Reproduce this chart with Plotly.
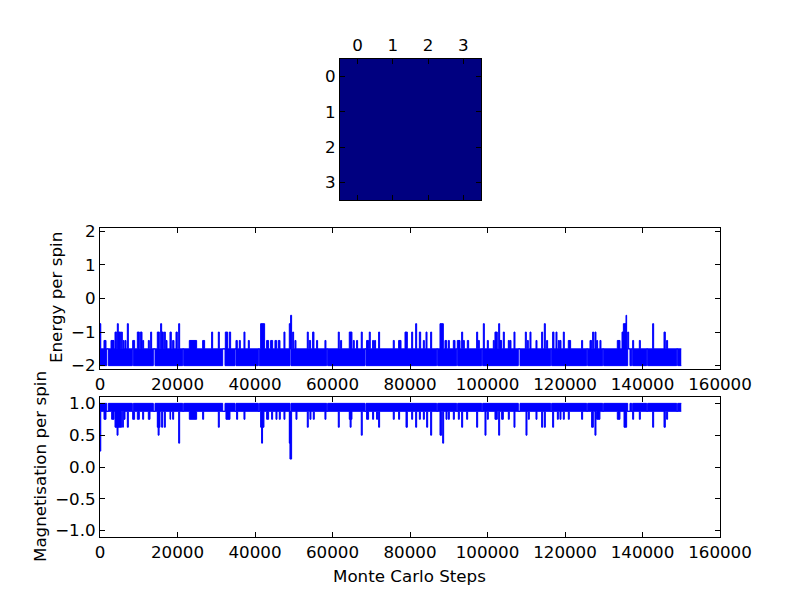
import plotly.graph_objects as go

# ---------------- data ----------------
spin_grid = [[1, 1, 1, 1],
             [1, 1, 1, 1],
             [1, 1, 1, 1],
             [1, 1, 1, 1]]
grid_ticks = [0, 1, 2, 3]

last_step = 150000
energy_ground = -2.0
energy_excited = -1.5
mag_full = 1.0
mag_excited = 0.875

# (start step, end step, energy per spin) excursions above the -1.5 level
energy_spikes = [
    (0, 200, -0.75), (1030, 1550, -1.25), (2840, 3610, -1.25), (3870, 4300, -1.0),
    (4470, 4720, -0.75), (4730, 5330, -1.0), (5500, 5760, -1.0), (6020, 6190, -1.25),
    (6450, 6710, -1.25), (7050, 7310, -0.75), (8430, 8940, -1.25), (9630, 10150, -1.0),
    (10410, 10840, -1.0), (11010, 11270, -1.25), (12470, 12730, -1.25), (13070, 13330, -1.0),
    (14790, 15310, -1.0), (15650, 15910, -0.75), (16000, 16340, -1.0), (16600, 16860, -1.0),
    (17030, 17290, -1.25), (18060, 18400, -1.0), (18750, 19090, -1.25), (19610, 19950, -1.0),
    (20300, 20560, -0.75), (23050, 24940, -1.25), (26490, 27000, -1.25), (28810, 29070, -1.0),
    (30530, 30790, -1.0), (32340, 32940, -1.0), (33370, 33710, -1.0), (35090, 35430, -1.25),
    (35950, 36210, -1.25), (37150, 37410, -1.0), (38270, 38530, -1.25), (41450, 42480, -0.75),
    (43000, 43520, -1.25), (44030, 44550, -1.25), (45150, 45580, -1.25), (46010, 46440, -1.25),
    (47470, 47730, -1.0), (48850, 49190, -0.75), (49190, 49450, -0.5), (49710, 49970, -1.0),
    (50310, 50570, -1.25), (53490, 53750, -1.0), (54010, 54350, -1.25), (54870, 55210, -1.0),
    (55900, 56160, -1.25), (58050, 58310, -1.25), (61490, 61750, -1.0), (62090, 62350, -1.25),
    (64330, 65020, -1.0), (65360, 65620, -1.25), (66220, 66480, -1.25), (67420, 67680, -1.0),
    (68800, 69320, -1.25), (69490, 69750, -1.0), (70350, 70610, -1.25), (70860, 71120, -1.25),
    (71900, 72160, -1.0), (75680, 75940, -1.25), (77060, 77680, -1.25), (78710, 79310, -1.0),
    (80430, 80690, -1.0), (81460, 81720, -0.75), (82410, 82750, -1.0), (83440, 83700, -1.25),
    (84130, 84390, -1.0), (85330, 85590, -1.0), (87740, 88600, -0.75), (89030, 89460, -1.25),
    (89890, 90150, -1.25), (91180, 91610, -1.25), (92210, 92900, -1.25), (93330, 93590, -1.0),
    (93760, 94020, -1.25), (94790, 95140, -1.25), (97200, 97460, -1.0), (97630, 97890, -1.25),
    (98920, 99180, -0.75), (99950, 100210, -1.25), (101500, 101760, -1.25), (101930, 102530, -1.0),
    (102880, 103140, -0.75), (103220, 103650, -1.25), (104080, 104340, -1.0), (105370, 105630, -1.25),
    (105800, 106060, -1.25), (106830, 107090, -1.0), (109760, 110020, -1.0), (110270, 110530, -1.25),
    (110960, 111220, -1.0), (112510, 112770, -1.25), (113970, 114230, -1.0), (114660, 114920, -0.75),
    (115260, 115520, -1.25), (116810, 117150, -1.0), (117670, 117930, -1.0), (118270, 118530, -1.25),
    (118700, 118960, -1.25), (119560, 119820, -1.0), (120850, 121450, -1.25), (124290, 124550, -1.25),
    (126450, 126870, -1.25), (127130, 127390, -1.0), (127730, 127990, -1.0), (128160, 128420, -1.25),
    (129020, 129280, -1.25), (133500, 134180, -1.25), (134710, 135060, -1.0), (135060, 135740, -0.75),
    (135740, 135910, -0.5), (136170, 136430, -1.0), (137460, 137720, -1.25), (139180, 139440, -1.25),
    (142620, 142880, -0.75), (145550, 145890, -1.0), (146220, 146480, -1.25),
]

# (start step, end step) stretches where the lattice never returned to the ground state
ground_gaps = [
    (1720, 2150), (8340, 8600), (13760, 14190), (21330, 21600), (31660, 32260),
    (34840, 35100), (40860, 41120), (49030, 49290), (58490, 58750), (68390, 68650),
    (86880, 87140), (92040, 92300), (98490, 98750), (107950, 108390), (116300, 116560),
    (125590, 125850), (129720, 129980), (136170, 136770), (137200, 137460), (141070, 141330),
    (148820, 149080),
]

# (start step, end step, magnetisation per spin) excursions below the 0.875 level
mag_dips = [
    (0, 200, 0.25), (1030, 1550, 0.75), (3010, 3610, 0.75), (3870, 4400, 0.625),
    (4400, 4650, 0.5), (4650, 5590, 0.625), (5850, 6020, 0.625), (6190, 6450, 0.75),
    (7050, 7310, 0.625), (8430, 8940, 0.75), (9630, 10150, 0.75), (11010, 11270, 0.75),
    (12470, 12900, 0.75), (14790, 15000, 0.625), (15000, 15250, 0.5), (15250, 15480, 0.625),
    (15910, 16170, 0.625), (16600, 16860, 0.625), (18060, 18230, 0.75), (18750, 19010, 0.75),
    (20300, 20560, 0.375), (23050, 24940, 0.75), (26490, 26750, 0.75), (30530, 30790, 0.625),
    (32510, 33540, 0.75), (35260, 35520, 0.75), (37150, 37410, 0.75), (41450, 41700, 0.625),
    (41700, 41950, 0.375), (41950, 42310, 0.625), (43000, 43520, 0.75), (44290, 44550, 0.75),
    (45410, 45670, 0.75), (46270, 46530, 0.75), (47470, 47730, 0.75), (48850, 49020, 0.375),
    (49020, 49450, 0.125), (50570, 50830, 0.75), (53490, 53750, 0.625), (54180, 54440, 0.75),
    (55040, 55300, 0.75), (58050, 58310, 0.75), (61490, 61750, 0.625), (64330, 64550, 0.75),
    (64550, 64800, 0.625), (64800, 65020, 0.75), (67420, 67680, 0.5), (68800, 69320, 0.75),
    (70350, 70610, 0.75), (71380, 71640, 0.75), (71900, 72160, 0.625), (75680, 75940, 0.75),
    (77060, 77320, 0.75), (78970, 79310, 0.625), (80430, 80690, 0.75), (81460, 81720, 0.625),
    (82410, 82670, 0.75), (83440, 83700, 0.75), (84300, 84560, 0.625), (85330, 85590, 0.5),
    (87740, 88170, 0.5), (88430, 88690, 0.375), (89290, 89550, 0.75), (89890, 90150, 0.75),
    (91180, 91440, 0.75), (92470, 92730, 0.75), (93330, 93590, 0.625), (94620, 94880, 0.75),
    (97200, 97460, 0.625), (99350, 99610, 0.5), (99950, 100210, 0.75), (101930, 102530, 0.75),
    (102880, 103140, 0.5), (103650, 104080, 0.75), (105370, 105630, 0.75), (106830, 107090, 0.625),
    (109930, 110190, 0.5), (110530, 110790, 0.75), (112510, 112770, 0.75), (113970, 114230, 0.625),
    (114660, 114920, 0.625), (116810, 117070, 0.625), (118020, 118280, 0.75), (118700, 118960, 0.75),
    (119560, 119820, 0.75), (120850, 121110, 0.75), (124290, 124550, 0.75), (126870, 127310, 0.625),
    (127730, 127990, 0.5), (128160, 129020, 0.75), (133500, 134180, 0.75), (135230, 135910, 0.625),
    (137460, 137720, 0.75), (139180, 139440, 0.75), (142620, 142880, 0.625), (145550, 145890, 0.625),
    (146220, 146480, 0.75),
]

x_ticks = [0, 20000, 40000, 60000, 80000, 100000, 120000, 140000, 160000]
energy_ticks = [-2, -1, 0, 1, 2]
energy_tick_text = ["\u22122", "\u22121", "0", "1", "2"]
mag_ticks = [-1.0, -0.5, 0.0, 0.5, 1.0]
mag_tick_text = ["\u22121.0", "\u22120.5", "0.0", "0.5", "1.0"]


def envelope(events, base, last):
    xs, ys = [0], [base]
    for s, e, v in sorted(events):
        xs += [s, e]
        ys += [v, base]
    xs.append(last)
    ys.append(base)
    return xs, ys


BLUE = "#0000ff"
FONT = "DejaVu Sans"
FS = 16.7

e_low_x, e_low_y = envelope([(s, e, energy_excited) for s, e in ground_gaps], energy_ground, last_step)
e_up_x, e_up_y = envelope(energy_spikes, energy_excited, last_step)
m_up_x, m_up_y = envelope([(s, e, mag_excited) for s, e in ground_gaps], mag_full, last_step)
m_low_x, m_low_y = envelope(mag_dips, mag_excited, last_step)

fig = go.Figure()

fig.add_trace(go.Heatmap(z=spin_grid, x=grid_ticks, y=grid_ticks,
                         colorscale=[[0, "#000080"], [1, "#000080"]],
                         showscale=False, xaxis="x", yaxis="y", hoverinfo="skip"))

line = dict(color=BLUE, width=1, shape="hv")
fig.add_trace(go.Scatter(x=e_low_x, y=e_low_y, mode="lines", line=line,
                         xaxis="x2", yaxis="y2", hoverinfo="skip"))
fig.add_trace(go.Scatter(x=e_up_x, y=e_up_y, mode="lines", line=line,
                         fill="tonexty", fillcolor=BLUE,
                         xaxis="x2", yaxis="y2", hoverinfo="skip"))
fig.add_trace(go.Scatter(x=m_up_x, y=m_up_y, mode="lines", line=line,
                         xaxis="x3", yaxis="y3", hoverinfo="skip"))
fig.add_trace(go.Scatter(x=m_low_x, y=m_low_y, mode="lines", line=line,
                         fill="tonexty", fillcolor=BLUE,
                         xaxis="x3", yaxis="y3", hoverinfo="skip"))

W, H = 800, 597
def px_x(p):
    return p / W
def px_y(p):
    return 1 - p / H

axis_style = dict(showline=True, linecolor="black", linewidth=1, mirror="ticks",
                  ticks="inside", ticklen=5, tickwidth=1, tickcolor="black",
                  showgrid=False, zeroline=False, automargin=False,
                  tickfont=dict(family=FONT, size=FS, color="black"))

fig.update_layout(
    width=W, height=H, autosize=False,
    margin=dict(l=0, r=0, t=0, b=0, pad=0, autoexpand=False),
    paper_bgcolor="white", plot_bgcolor="white",
    showlegend=False,
    font=dict(family=FONT, size=FS, color="black"),
    xaxis=dict(domain=[px_x(340), px_x(481)], anchor="y", side="top",
               range=[-0.5, 3.5], tickvals=grid_ticks, **axis_style),
    yaxis=dict(domain=[px_y(200), px_y(59)], anchor="x",
               range=[3.5, -0.5], tickvals=grid_ticks, **axis_style),
    xaxis2=dict(domain=[px_x(100), px_x(720)], anchor="y2",
                range=[0, 160000], tickvals=x_ticks,
                ticktext=[str(v) for v in x_ticks], **axis_style),
    yaxis2=dict(domain=[px_y(369), px_y(228)], anchor="x2",
                range=[-2.1, 2.1], tickvals=energy_ticks,
                ticktext=energy_tick_text, **axis_style),
    xaxis3=dict(domain=[px_x(100), px_x(720)], anchor="y3",
                range=[0, 160000], tickvals=x_ticks,
                ticktext=[str(v) for v in x_ticks], **axis_style),
    yaxis3=dict(domain=[px_y(537), px_y(397)], anchor="x3",
                range=[-1.1, 1.1], tickvals=mag_ticks,
                ticktext=mag_tick_text, **axis_style),
    annotations=[
        dict(text="Energy per spin", xref="paper", yref="paper",
             x=px_x(56), y=px_y(298), textangle=-90, showarrow=False,
             xanchor="center", yanchor="middle",
             font=dict(family=FONT, size=FS, color="black")),
        dict(text="Magnetisation per spin", xref="paper", yref="paper",
             x=px_x(40), y=px_y(467), textangle=-90, showarrow=False,
             xanchor="center", yanchor="middle",
             font=dict(family=FONT, size=FS, color="black")),
        dict(text="Monte Carlo Steps", xref="paper", yref="paper",
             x=px_x(410), y=px_y(576), showarrow=False,
             xanchor="center", yanchor="middle",
             font=dict(family=FONT, size=FS, color="black")),
    ],
)

fig.write_html("out.html",
               config={"displayModeBar": False, "staticPlot": True},
               post_script="document.body.style.margin='0';document.body.style.padding='0';document.body.style.overflow='hidden';")
